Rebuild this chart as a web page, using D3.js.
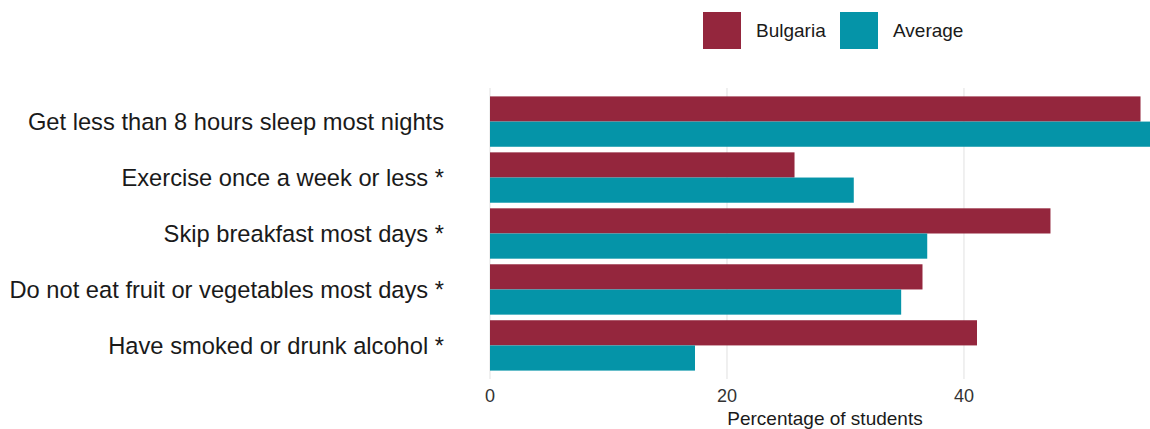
<!DOCTYPE html>
<html>
<head>
<meta charset="utf-8">
<script src="https://cdn.jsdelivr.net/npm/d3@7"></script>
<style>
  body { margin: 0; background: #fff; }
  text { font-family: "Liberation Sans", Arial, sans-serif; }
</style>
</head>
<body>
<svg width="1150" height="429"></svg>
<script>
var categories = [
    "Get less than 8 hours sleep most nights",
    "Exercise once a week or less *",
    "Skip breakfast most days *",
    "Do not eat fruit or vegetables most days *",
    "Have smoked or drunk alcohol *"
];

var series = ["Bulgaria", "Average"];

var bulgaria = [54.9, 25.7, 47.3, 36.5, 41.1];
var average = [55.7, 30.7, 36.9, 34.7, 17.3];

var xTicks = [0, 20, 40];

var colors = { Bulgaria: "#94263d", Average: "#0594a8" };

var rows = categories.map(function(c, i) {
    return { name: c, Bulgaria: bulgaria[i], Average: average[i] };
});

var svg = d3.select("svg"),
    width = +svg.attr("width"),
    height = +svg.attr("height");

var panel = { left: 490, right: 1150, top: 88, bottom: 379 };

var x = d3.scaleLinear()
    .domain([0, 55.7])
    .range([panel.left, panel.right]);

var y = d3.scaleBand()
    .domain(categories)
    .range([panel.top, panel.bottom])
    .paddingInner(0)
    .paddingOuter(0.1);

var inner = d3.scaleBand()
    .domain(series)
    .range([y.step() * 0.05, y.step() * 0.95]);

// grid
svg.append("g")
  .selectAll("line")
  .data(xTicks)
  .enter().append("line")
    .attr("x1", function(d) { return x(d); })
    .attr("x2", function(d) { return x(d); })
    .attr("y1", panel.top)
    .attr("y2", panel.bottom)
    .attr("stroke", "#e6e6e6")
    .attr("stroke-width", 1.2);

// bars
var group = svg.append("g")
  .selectAll("g")
  .data(rows)
  .enter().append("g")
    .attr("transform", function(d) { return "translate(0," + y(d.name) + ")"; });

group.selectAll("rect")
    .data(function(d) { return series.map(function(s) { return { key: s, value: d[s] }; }); })
  .enter().append("rect")
    .attr("x", x(0))
    .attr("y", function(d) { return inner(d.key); })
    .attr("width", function(d) { return x(d.value) - x(0); })
    .attr("height", inner.bandwidth())
    .attr("fill", function(d) { return colors[d.key]; });

// y labels
svg.append("g")
  .selectAll("text")
  .data(categories)
  .enter().append("text")
    .attr("x", 444)
    .attr("y", function(d) { return y(d) + y.bandwidth() / 2; })
    .attr("dy", "0.35em")
    .attr("text-anchor", "end")
    .attr("fill", "#1a1a1a")
    .style("font-size", "23.7px")
    .text(function(d) { return d; });

// x tick labels
svg.append("g")
  .selectAll("text")
  .data(xTicks)
  .enter().append("text")
    .attr("x", function(d) { return x(d); })
    .attr("y", 396)
    .attr("dy", "0.35em")
    .attr("text-anchor", "middle")
    .attr("fill", "#333")
    .style("font-size", "18px")
    .text(function(d) { return d; });

svg.append("text")
    .attr("x", 825)
    .attr("y", 418)
    .attr("dy", "0.35em")
    .attr("text-anchor", "middle")
    .attr("fill", "#1a1a1a")
    .style("font-size", "19px")
    .text("Percentage of students");

// legend
var legendX = { Bulgaria: 703, Average: 840 };

var legend = svg.append("g")
  .selectAll("g")
  .data(series)
  .enter().append("g")
    .attr("transform", function(d) { return "translate(" + legendX[d] + ",12)"; });

legend.append("rect")
    .attr("width", 38)
    .attr("height", 37)
    .attr("fill", function(d) { return colors[d]; });

legend.append("text")
    .attr("x", 53)
    .attr("y", 18.5)
    .attr("dy", "0.35em")
    .attr("fill", "#1a1a1a")
    .style("font-size", "19px")
    .text(function(d) { return d; });
</script>
</body>
</html>
